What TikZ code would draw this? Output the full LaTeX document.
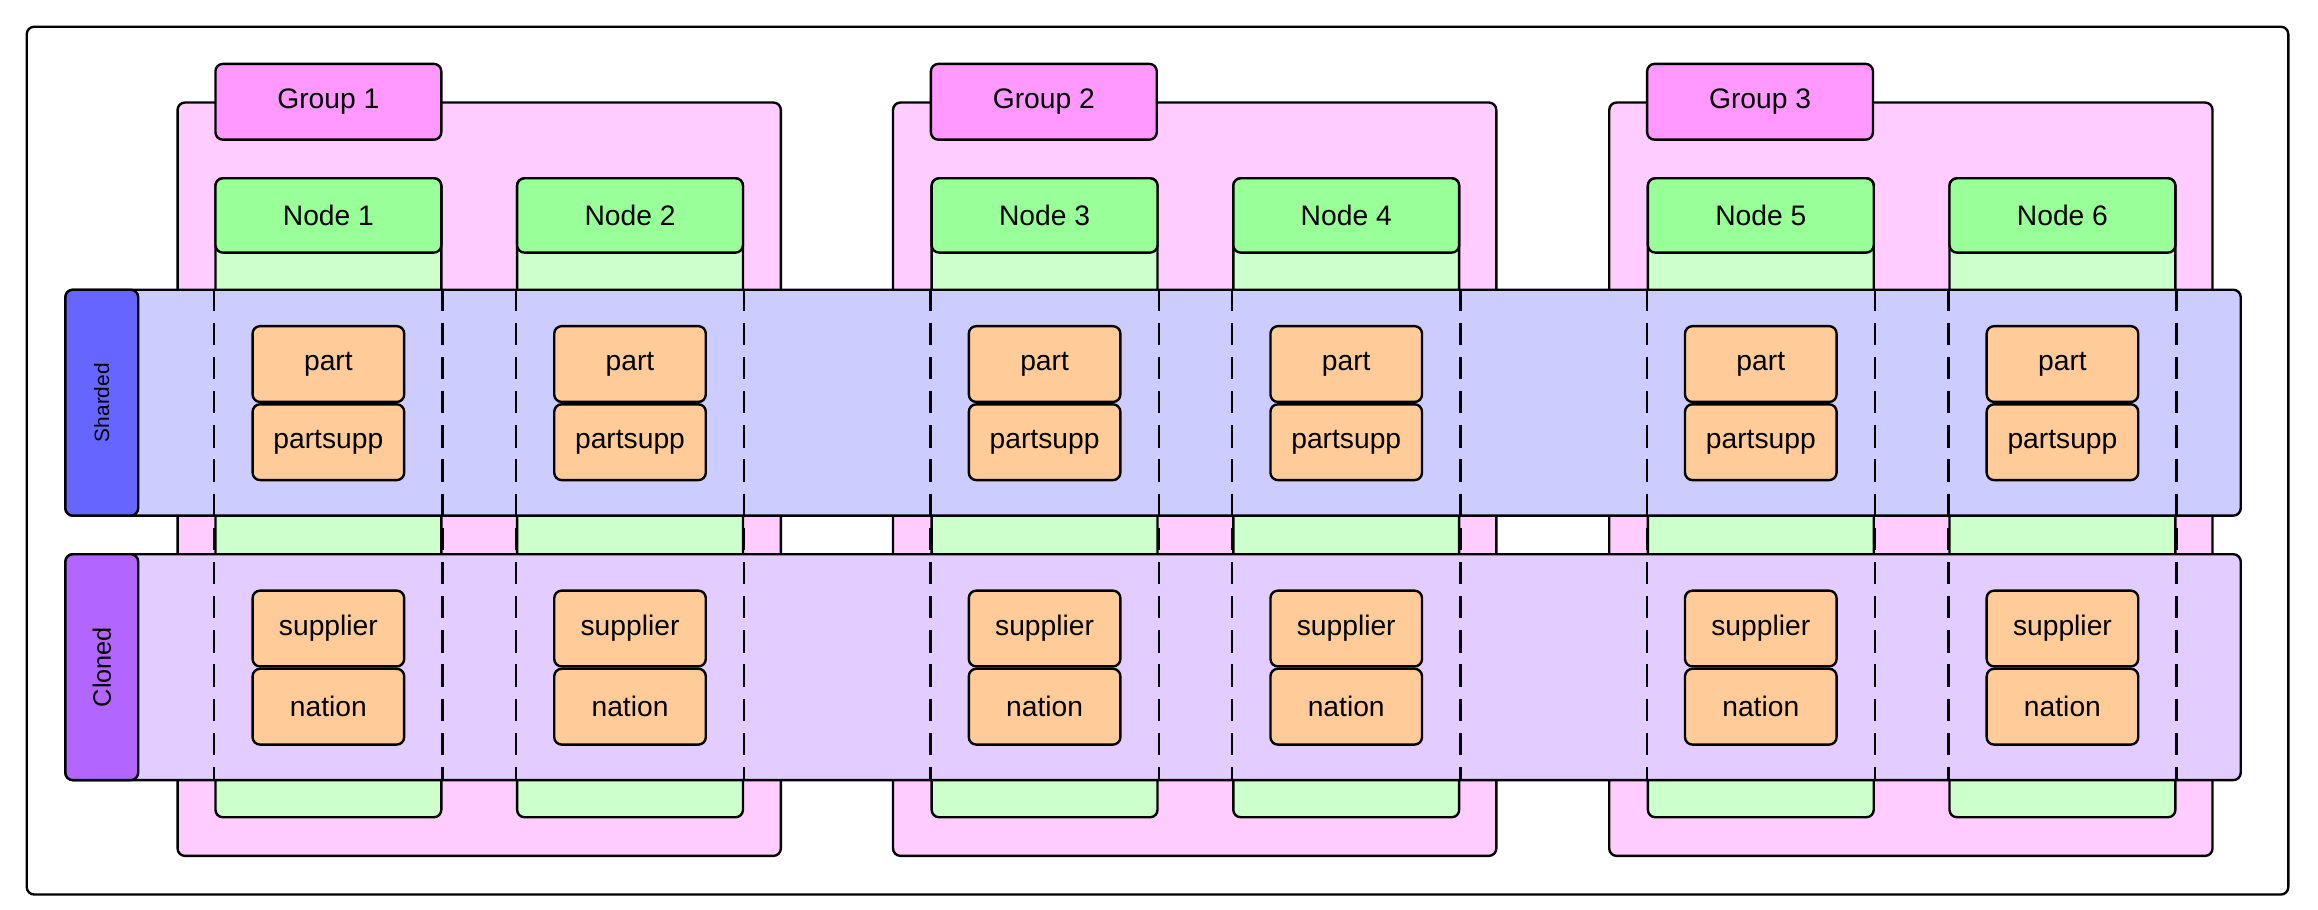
\documentclass[tikz,border=0pt]{standalone}
\usepackage{fontspec}
\setmainfont{Liberation Sans}
\usetikzlibrary{positioning}

\definecolor{grpfill}{HTML}{FFCCFF}
\definecolor{tabfill}{HTML}{FF99FF}
\definecolor{headfill}{HTML}{99FF99}
\definecolor{bodyfill}{HTML}{CCFFCC}
\definecolor{shfill}{HTML}{CCCCFF}
\definecolor{shlabel}{HTML}{6666FF}
\definecolor{clfill}{HTML}{E3CCFF}
\definecolor{cllabel}{HTML}{B266FF}
\definecolor{tblfill}{HTML}{FFCC99}

\tikzset{
  box/.style={draw=black, line width=1.6pt, rounded corners=5pt, inner sep=0pt},
  group/.style={box, fill=grpfill, minimum width=406pt, minimum height=507pt},
  grouptab/.style={box, fill=tabfill, minimum width=152pt, minimum height=51pt, font=\fontsize{19}{22}\selectfont},
  nodebody/.style={box, fill=bodyfill, minimum width=152pt, minimum height=430pt},
  nodehead/.style={box, fill=headfill, minimum width=152pt, minimum height=50pt, font=\fontsize{19}{22}\selectfont},
  band/.style={box, minimum width=1464pt, minimum height=152pt},
  bandlabel/.style={box, minimum width=152pt, minimum height=49pt, rotate=90},
  tablebox/.style={box, fill=tblfill, minimum width=102pt, minimum height=51pt, font=\fontsize{19}{22}\selectfont},
  lane/.style={line width=1.6pt, dash pattern=on 15pt off 8pt}
}

\begin{document}
\begin{tikzpicture}[x=1pt, y=-1pt]
\useasboundingbox (0,0) rectangle (1560,612);
\node[box, minimum width=1522pt, minimum height=584pt] (frame) at (779,310) {};

% groups
\foreach \g/\x in {1/322.5, 2/804, 3/1286} {
    \node[group] (grp\g) at (\x,322.5) {};
    \node[grouptab] (tab\g) at ({\x-101.5},68.5) {Group \g};
}

% machine nodes
\foreach \i/\x in {1/221, 2/424, 3/703, 4/906, 5/1185, 6/1388} {
    \node[nodebody] (body\i) at (\x,335) {};
    \node[nodehead] (head\i) at (\x,145) {Node \i};
}

% bands
\node[band, fill=shfill] (shard) at (776,271) {};
\node[band, fill=clfill] (clone) at (776,449) {};
\node[bandlabel, fill=shlabel, font=\fontsize{14}{16}\selectfont] (shardlbl) at (68.5,271) {Sharded};
\node[bandlabel, fill=cllabel, font=\fontsize{17}{20}\selectfont] (clonelbl) at (68.5,449) {Cloned};

% node boundaries across the bands and tables
\foreach \i in {1,...,6} {
    \draw[lane] (body\i.west |- shard.north) -- (body\i.west |- clone.south);
    \draw[lane] (body\i.east |- shard.north) -- (body\i.east |- clone.south);
    \node[tablebox] (part\i) at (body\i |- 0,245) {part};
    \node[tablebox, below=0pt of part\i] (psupp\i) {partsupp};
    \node[tablebox] (supp\i) at (body\i |- 0,423) {supplier};
    \node[tablebox, below=0pt of supp\i] (nation\i) {nation};
}
\end{tikzpicture}
\end{document}
